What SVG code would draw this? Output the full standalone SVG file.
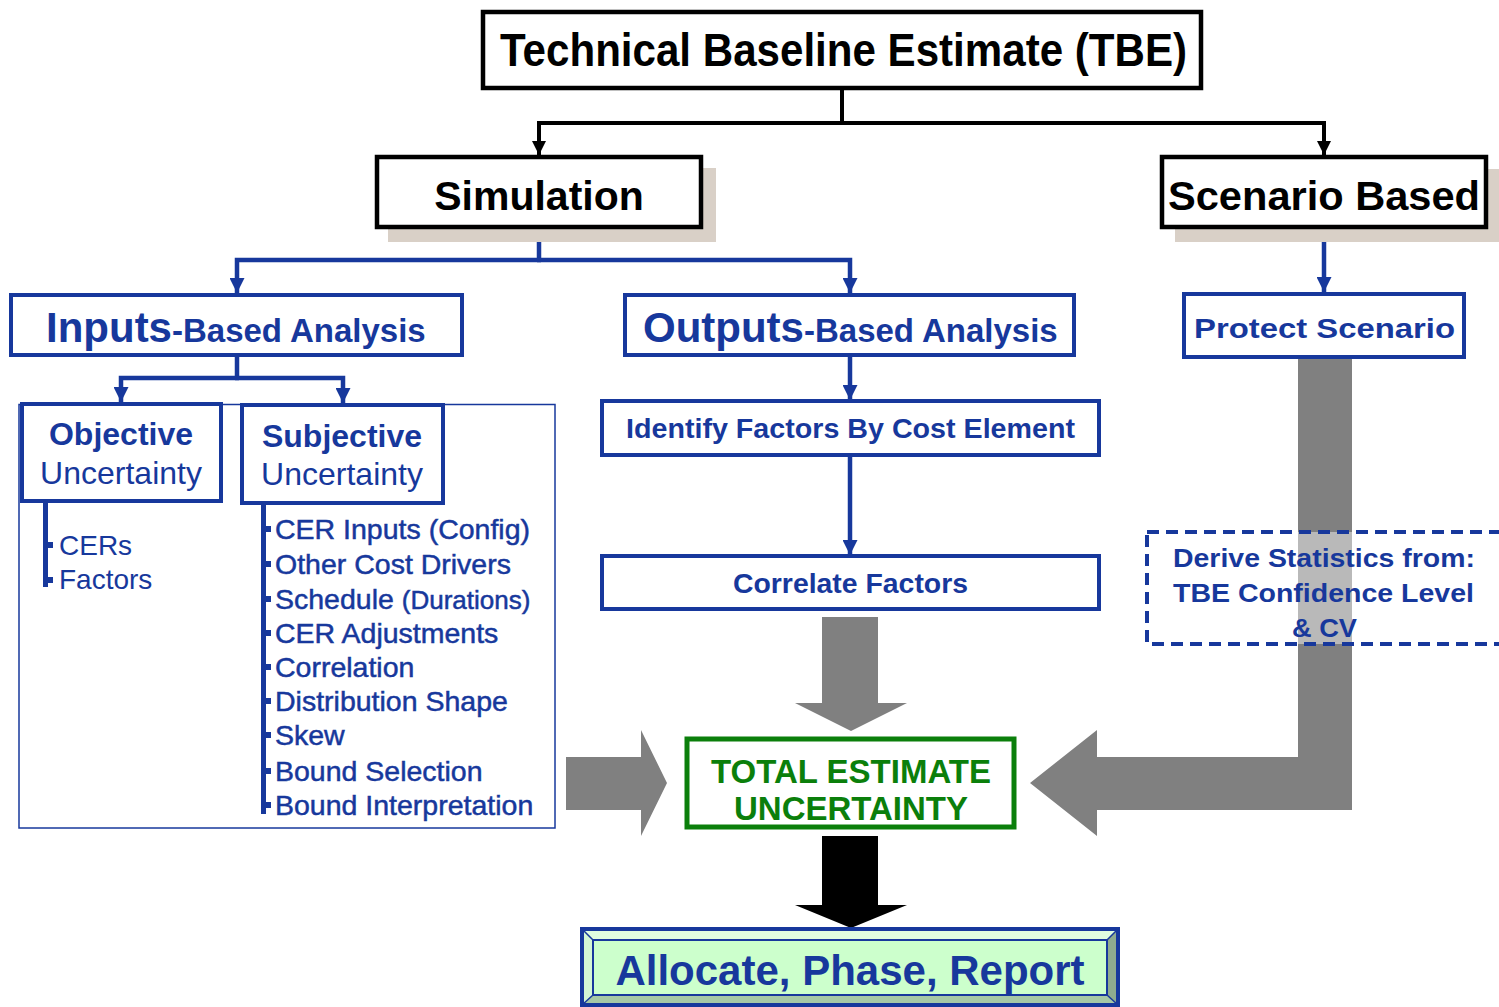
<svg xmlns="http://www.w3.org/2000/svg" width="1499" height="1007" viewBox="0 0 1499 1007">
  <style>
    text { font-family: "Liberation Sans", Arial, sans-serif; }
    .blk { fill: #000; }
    .blu { fill: #17389c; }
    .grn { fill: #0b7f0b; }
    .b { font-weight: bold; }
    .mid { text-anchor: middle; }
    .boxK { fill: #fff; stroke: #000; stroke-width: 4.5; }
    .boxB { fill: #fff; stroke: #17389c; stroke-width: 4; }
    .shadow { fill: #d9d0c7; }
    .lnK { fill: none; stroke: #000; stroke-width: 4; }
    .lnB { fill: none; stroke: #17389c; stroke-width: 4.5; }
    .item { font-size: 28.5px; fill: #17389c; stroke: #17389c; stroke-width: 0.5; }
    .bar { fill: #17389c; }
    .block { fill: #808080; }
  </style>
  <defs>
    <marker id="headK" viewBox="0 0 14 14" refX="14" refY="7" markerWidth="14" markerHeight="14" markerUnits="userSpaceOnUse" orient="auto">
      <path d="M0,0 L14,7 L0,14 z" fill="#000"/>
    </marker>
    <marker id="headB" viewBox="0 0 14 14" refX="14" refY="7" markerWidth="15" markerHeight="15" markerUnits="userSpaceOnUse" orient="auto">
      <path d="M0,0 L14,7 L0,14 z" fill="#17389c"/>
    </marker>
  </defs>

  <rect width="1499" height="1007" fill="#fff"/>

  <!-- connectors -->
  <g id="connectors">
    <path class="lnK" d="M842,90 V123"/>
    <path class="lnK" d="M844,123 H539 V155" marker-end="url(#headK)"/>
    <path class="lnK" d="M840,123 H1324 V155" marker-end="url(#headK)"/>

    <path class="lnB" d="M539,229 V260"/>
    <path class="lnB" d="M541,260 H237 V293" marker-end="url(#headB)"/>
    <path class="lnB" d="M537,260 H850 V293" marker-end="url(#headB)"/>
    <path class="lnB" d="M1324,229 V292" marker-end="url(#headB)"/>

    <path class="lnB" d="M237,357 V378"/>
    <path class="lnB" d="M239,378 H121 V402" marker-end="url(#headB)"/>
    <path class="lnB" d="M235,378 H343 V403" marker-end="url(#headB)"/>

    <path class="lnB" d="M850,357 V400" marker-end="url(#headB)"/>
    <path class="lnB" d="M850,457 V555" marker-end="url(#headB)"/>

    <!-- block arrows into the total -->
    <polygon class="block" points="822,617 878,617 878,703 907,703 851,731 795,703 822,703"/>
    <polygon class="block" points="566,757 641,757 641,730 667,783 641,836 641,810 566,810"/>
    <polygon class="block" points="1298,359 1352,359 1352,810 1097,810 1097,836 1030,783 1097,730 1097,757 1298,757"/>
    <polygon fill="#000" points="822,836 878,836 878,905 907,905 851,928 795,905 822,905"/>
  </g>

  <!-- top level -->
  <g id="tbe">
    <rect class="boxK" x="483" y="12" width="718" height="76" stroke-width="5"/>
    <text class="blk b" x="500" y="66" font-size="46" textLength="687" lengthAdjust="spacingAndGlyphs">Technical Baseline Estimate (TBE)</text>
  </g>

  <g id="simulation">
    <rect class="shadow" x="388" y="168" width="328" height="74"/>
    <rect class="boxK" x="377" y="157" width="324" height="70"/>
    <text class="blk b mid" x="539" y="210" font-size="41">Simulation</text>
  </g>

  <g id="scenario-based">
    <rect class="shadow" x="1175" y="169" width="330" height="73"/>
    <rect class="boxK" x="1162" y="157" width="324" height="70"/>
    <text class="blk b" x="1168" y="210" font-size="41" textLength="312" lengthAdjust="spacingAndGlyphs">Scenario Based</text>
  </g>

  <!-- second level -->
  <g id="inputs-based">
    <rect class="boxB" x="11" y="295" width="451" height="60"/>
    <text class="blu b" x="46" y="342"><tspan font-size="42">Inputs</tspan><tspan font-size="33">-Based Analysis</tspan></text>
  </g>

  <g id="outputs-based">
    <rect class="boxB" x="625" y="295" width="449" height="60"/>
    <text class="blu b" x="643" y="342"><tspan font-size="42">Outputs</tspan><tspan font-size="33">-Based Analysis</tspan></text>
  </g>

  <g id="protect-scenario">
    <rect class="boxB" x="1184" y="294" width="280" height="63"/>
    <text class="blu b" x="1194" y="338" font-size="28" textLength="261" lengthAdjust="spacingAndGlyphs">Protect Scenario</text>
  </g>

  <!-- uncertainty breakdown -->
  <g id="uncertainty-panel">
    <rect x="19" y="404.5" width="536" height="423.5" fill="none" stroke="#17389c" stroke-width="1.5"/>
  </g>

  <g id="objective">
    <rect class="boxB" x="22" y="404" width="199" height="97"/>
    <text class="blu b mid" x="121" y="445" font-size="32">Objective</text>
    <text class="blu mid" x="121" y="484" font-size="32">Uncertainty</text>
    <rect class="bar" x="43" y="501" width="5" height="86"/>
    <rect class="bar" x="43" y="542" width="10" height="6"/>
    <rect class="bar" x="43" y="577" width="10" height="6"/>
    <text class="blu" x="59" y="555" font-size="28">CERs</text>
    <text class="blu" x="59" y="589" font-size="28">Factors</text>
  </g>

  <g id="subjective">
    <rect class="boxB" x="242" y="405" width="201" height="98"/>
    <text class="blu b mid" x="342" y="447" font-size="32">Subjective</text>
    <text class="blu mid" x="342" y="485" font-size="32">Uncertainty</text>
    <rect class="bar" x="261" y="503" width="5" height="311"/>
    <rect class="bar" x="261" y="526" width="10" height="6"/>
    <rect class="bar" x="261" y="561" width="10" height="6"/>
    <rect class="bar" x="261" y="596" width="10" height="6"/>
    <rect class="bar" x="261" y="630" width="10" height="6"/>
    <rect class="bar" x="261" y="664" width="10" height="6"/>
    <rect class="bar" x="261" y="698" width="10" height="6"/>
    <rect class="bar" x="261" y="732" width="10" height="6"/>
    <rect class="bar" x="261" y="768" width="10" height="6"/>
    <rect class="bar" x="261" y="802" width="10" height="6"/>
    <text class="item" x="275" y="539">CER Inputs (Config)</text>
    <text class="item" x="275" y="574">Other Cost Drivers</text>
    <text class="item" x="275" y="609">Schedule <tspan font-size="26">(Durations)</tspan></text>
    <text class="item" x="275" y="643">CER Adjustments</text>
    <text class="item" x="275" y="677">Correlation</text>
    <text class="item" x="275" y="711">Distribution Shape</text>
    <text class="item" x="275" y="745">Skew</text>
    <text class="item" x="275" y="781">Bound Selection</text>
    <text class="item" x="275" y="815">Bound Interpretation</text>
  </g>

  <!-- outputs chain -->
  <g id="identify-factors">
    <rect class="boxB" x="602" y="401" width="497" height="54"/>
    <text class="blu b" x="626" y="438" font-size="27" textLength="449" lengthAdjust="spacingAndGlyphs">Identify Factors By Cost Element</text>
  </g>

  <g id="correlate-factors">
    <rect class="boxB" x="602" y="556" width="497" height="53"/>
    <text class="blu b" x="733" y="593" font-size="28" textLength="235" lengthAdjust="spacingAndGlyphs">Correlate Factors</text>
  </g>

  <!-- scenario statistics (translucent over the block arrow) -->
  <g id="derive-statistics">
    <rect x="1147" y="532" width="380" height="112" fill="#fff" fill-opacity="0.45" stroke="#17389c" stroke-width="4" stroke-dasharray="12 7"/>
    <text class="blu b" x="1173" y="567" font-size="25" textLength="302" lengthAdjust="spacingAndGlyphs">Derive Statistics from:</text>
    <text class="blu b" x="1173" y="602" font-size="25" textLength="301" lengthAdjust="spacingAndGlyphs">TBE Confidence Level</text>
    <text class="blu b" x="1292" y="637" font-size="25" textLength="65" lengthAdjust="spacingAndGlyphs">&amp; CV</text>
  </g>

  <!-- result -->
  <g id="total-uncertainty">
    <rect x="687" y="739" width="327" height="88" fill="#fff" stroke="#0b7f0b" stroke-width="5"/>
    <text class="grn b mid" x="851" y="783" font-size="33">TOTAL ESTIMATE</text>
    <text class="grn b mid" x="851" y="820" font-size="33">UNCERTAINTY</text>
  </g>

  <g id="allocate-phase-report">
    <rect x="582" y="929" width="536" height="76" fill="#ccffcc"/>
    <polygon points="582,929 1118,929 1107,940 593,940" fill="#e0fde0"/>
    <polygon points="1118,929 1118,1005 1107,995 1107,940" fill="#8fab8f"/>
    <polygon points="582,1005 1118,1005 1107,995 593,995" fill="#a6c8a6"/>
    <polygon points="582,929 593,940 593,995 582,1005" fill="#d4f6d4"/>
    <rect x="593" y="940" width="514" height="55" fill="#ccffcc" stroke="#17389c" stroke-width="2"/>
    <path d="M582,929 L593,940 M1118,929 L1107,940 M582,1005 L593,995 M1118,1005 L1107,995" stroke="#17389c" stroke-width="1.5"/>
    <rect x="582" y="929" width="536" height="76" fill="none" stroke="#17389c" stroke-width="4"/>
    <text class="blu b mid" x="850" y="985" font-size="42">Allocate, Phase, Report</text>
  </g>
</svg>
